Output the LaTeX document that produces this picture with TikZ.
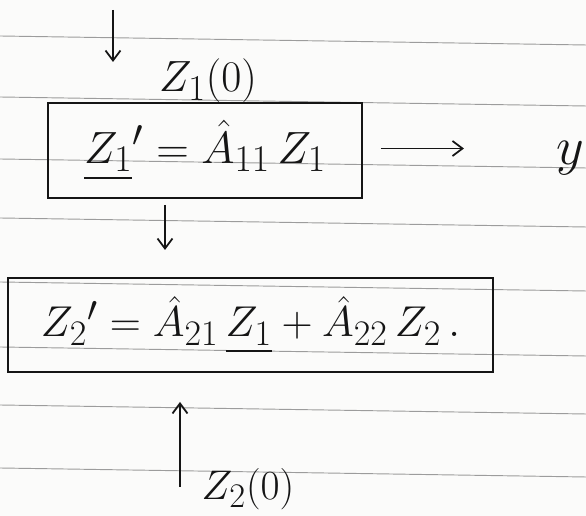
\documentclass[tikz,border=0pt]{standalone}
\usepackage{tikz}
\usetikzlibrary{arrows.meta,positioning,calc}
\usepackage{xcolor}
\usepackage{amsmath}
\definecolor{Ink}{HTML}{151515}
\definecolor{RuleGray}{HTML}{9C9C9C}
\definecolor{Paper}{HTML}{FBFBFA}
\tikzset{
  eqbox/.style={draw=Ink, line width=1.6pt, inner sep=0pt, text=Ink, font=\Huge},
  lbl/.style={text=Ink, inner sep=1pt, font=\Huge},
  arr/.style={-{Straight Barb[length=3mm,width=4.5mm]}, line width=1.5pt, draw=Ink},
  ruleline/.style={draw=RuleGray, line width=0.8pt}
}
\begin{document}
\begin{tikzpicture}[x=0.03cm,y=0.03cm]
\fill[Paper] (0,0) rectangle (586,516);
\useasboundingbox (0,0) rectangle (586,516);
% ruled paper
\foreach \ry in {36,97,159,218,282,347,405,468}{\draw[ruleline] (0,516-\ry) -- (586,507-\ry);}
% the two equations
\node[eqbox,minimum width=9.42cm,minimum height=2.85cm] (eq1) at (205,365.5) {\scalebox{1.55}{$\underline{Z_1}' = \hat{A}_{11}\, Z_1$}};
\node[eqbox,minimum width=14.55cm,minimum height=2.82cm] (eq2) at (250.5,191) {\scalebox{1.48}{${Z_2}' = \hat{A}_{21}\,\underline{Z_1} + \hat{A}_{22}\, Z_2\,.$}};
% labels
\node[lbl] (z1init) at (208,435) {\scalebox{1.5}{$Z_1(0)$}};
\node[lbl] (yout) at (570,358) {\scalebox{1.85}{$y$}};
\node[lbl] (z2init) at (248,27) {\scalebox{1.42}{$Z_2(0)$}};
% arrows
\coordinate (in1) at (113,506);
\coordinate (in1end) at (113,454);
\coordinate (link) at (165,311);
\coordinate (linkend) at (165,266);
\coordinate (in2) at (180,29);
\coordinate (in2end) at (180,114);
\draw[arr] (in1) -- (in1end);
\draw[arr] (link) -- (linkend);
\draw[arr] ($(eq1.east)+(18,2)$) -- ++(83,0);
\draw[arr] (in2) -- (in2end);
\end{tikzpicture}
\end{document}
